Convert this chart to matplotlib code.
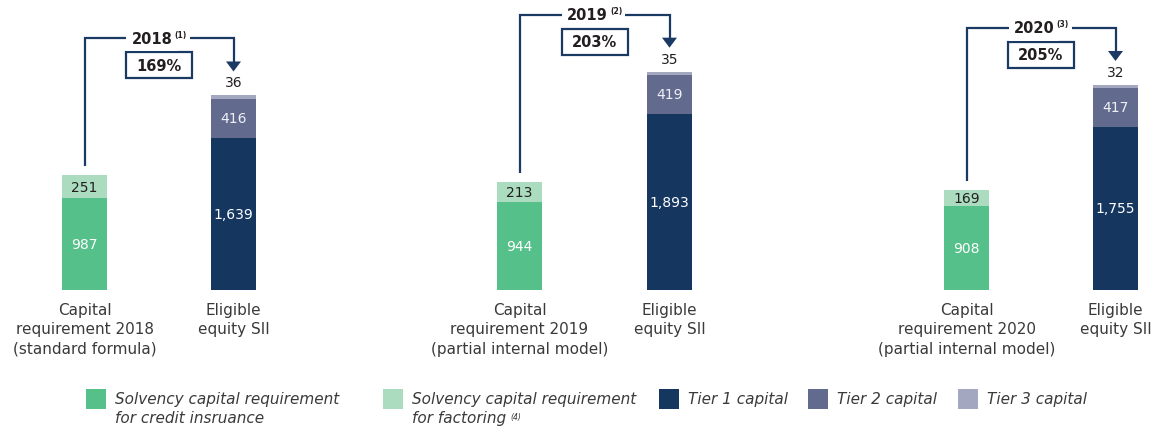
import matplotlib.pyplot as plt
from matplotlib.patches import Rectangle, Polygon

# Solvency II: capital requirement vs eligible own funds (EUR m)
years = ["2018", "2019", "2020"]
notes = ["(1)", "(2)", "(3)"]
ratios = ["169%", "203%", "205%"]
scr_credit = [987, 944, 908]
scr_factoring = [251, 213, 169]
tier1 = [1639, 1893, 1755]
tier2 = [416, 419, 417]
tier3 = [36, 35, 32]
req_labels = [
    "Capital\nrequirement 2018\n(standard formula)",
    "Capital\nrequirement 2019\n(partial internal model)",
    "Capital\nrequirement 2020\n(partial internal model)",
]
equity_label = "Eligible\nequity SII"
legend_labels = [
    "Solvency capital requirement\nfor credit insruance",
    "Solvency capital requirement\nfor factoring",
    "Tier 1 capital",
    "Tier 2 capital",
    "Tier 3 capital",
]
legend_notes = ["", "(4)", "", "", ""]

GREEN = "#56c08a"
LGREEN = "#acdcbf"
NAVY = "#15365f"
TIER2 = "#626a8e"
TIER3 = "#a3a7bf"
LINE = "#1b3a63"
TXT = "#231f20"
GREY = "#3a3a3a"

W, H = 1159, 431
PX = 10.75  # value units per pixel

fig = plt.figure(figsize=(W / 100, H / 100), dpi=100)
ax = fig.add_axes([0, 0, 1, 1])
ax.axis("off")
ax.set_xlim(0, W)
ax.set_ylim(-140 * PX, 291 * PX)

req_x = [84.5, 519.5, 966.5]
eq_x = [233.5, 669.5, 1115.5]
bw = 45

ax.bar(req_x, scr_credit, width=bw, color=GREEN)
ax.bar(req_x, scr_factoring, width=bw, bottom=scr_credit, color=LGREEN)
ax.bar(eq_x, tier1, width=bw, color=NAVY)
ax.bar(eq_x, tier2, width=bw, bottom=tier1, color=TIER2)
t3_bottom = [a + b for a, b in zip(tier1, tier2)]
ax.bar(eq_x, tier3, width=bw, bottom=t3_bottom, color=TIER3)

num_kw = dict(ha="center", va="center", fontsize=10)
for i in range(3):
    rx, ex = req_x[i], eq_x[i]
    req_top = scr_credit[i] + scr_factoring[i]
    eq_top = t3_bottom[i] + tier3[i]

    ax.text(rx, scr_credit[i] / 2, f"{scr_credit[i]:,}", color="white", **num_kw)
    ax.text(rx, scr_credit[i] + scr_factoring[i] / 2, f"{scr_factoring[i]:,}", color=TXT, **num_kw)
    ax.text(ex, tier1[i] / 2, f"{tier1[i]:,}", color="white", **num_kw)
    ax.text(ex, tier1[i] + tier2[i] / 2, f"{tier2[i]:,}", color="#eef0f5", **num_kw)
    ax.text(ex, eq_top + 13 * PX, f"{tier3[i]:,}", color=TXT, **num_kw)

    # bracket from requirement bar to eligible equity bar
    yb = eq_top + 57 * PX
    ax.plot([rx, rx, ex, ex], [req_top + 9 * PX, yb, yb, eq_top + 33 * PX],
            color=LINE, lw=1.6, solid_joinstyle="miter", solid_capstyle="butt")
    ax.add_patch(Polygon([(ex - 7.5, eq_top + 34 * PX), (ex + 7.5, eq_top + 34 * PX),
                          (ex, eq_top + 24 * PX)], closed=True, color=LINE, lw=0))

    mid = (rx + ex) / 2
    yt = ax.text(mid - 7, yb, years[i], ha="center", va="center", fontsize=10.5,
                 fontweight="bold", color=TXT,
                 bbox=dict(boxstyle="square,pad=0.35", fc="white", ec="none"))
    ax.annotate(notes[i], xy=(1, 1), xycoords=yt, xytext=(1.5, 1), textcoords="offset points",
                ha="left", va="top", fontsize=5.5, fontweight="bold", color=TXT,
                bbox=dict(boxstyle="square,pad=0.4", fc="white", ec="none"))

    ax.add_patch(Rectangle((mid - 33, yb - 40 * PX), 66, 26 * PX, fill=False,
                           ec=LINE, lw=1.6))
    ax.text(mid, yb - 27 * PX, ratios[i], ha="center", va="center", fontsize=10.5,
            fontweight="bold", color=TXT)

    ax.text(rx, -12 * PX, req_labels[i], ha="center", va="top", fontsize=11,
            color=GREY, linespacing=1.36)
    ax.text(ex, -12 * PX, equity_label, ha="center", va="top", fontsize=11,
            color=GREY, linespacing=1.36)

# legend along the bottom
leg_colors = [GREEN, LGREEN, NAVY, TIER2, TIER3]
leg_x = [86, 383, 659, 808, 958]
for lx, col, lab, note in zip(leg_x, leg_colors, legend_labels, legend_notes):
    fig.add_artist(Rectangle((lx / W, 1 - 410 / H), 20 / W, 20 / H,
                             transform=fig.transFigure, color=col, lw=0))
    for k, line in enumerate(lab.split("\n")):
        t = fig.text((lx + 29) / W, 1 - (400 + 19 * k) / H, line, ha="left",
                     va="center", fontsize=11, style="italic", color=GREY)
    if note:
        ax.annotate(note, xy=(1, 1), xycoords=t, xytext=(3, -1),
                    textcoords="offset points", ha="left", va="top",
                    fontsize=5.5, style="italic", color=GREY)

fig.savefig("out.png", dpi=100)
